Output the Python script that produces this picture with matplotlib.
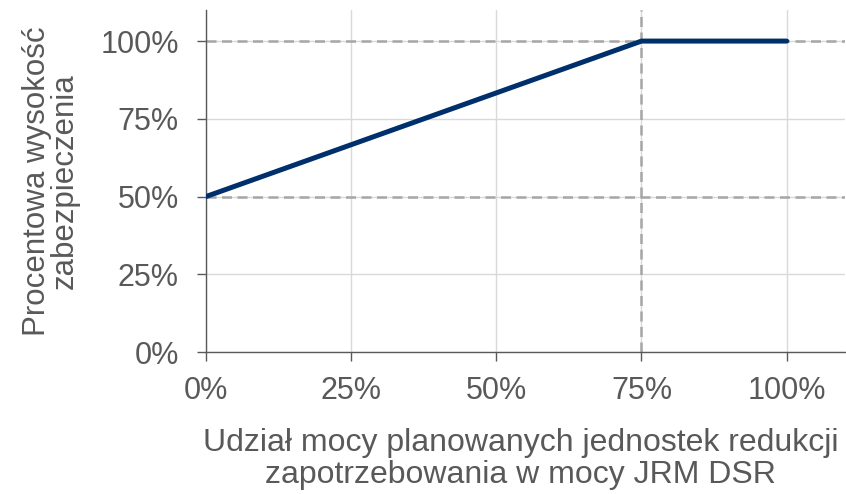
import matplotlib.pyplot as plt
from matplotlib.ticker import FuncFormatter

plt.rcParams['font.family'] = ['Liberation Sans', 'DejaVu Sans']

# data: share of planned DSR units vs. collateral percentage
share = [0, 75, 100]
collateral = [50, 100, 100]
ticks = [0, 25, 50, 75, 100]
ref_y = [50, 100]
ref_x = [75]

txt = '#595959'
fig = plt.figure(figsize=(8.46, 4.94), dpi=100)
ax = fig.add_axes([0.2435, 0.2874, 0.755, 0.6924])

ax.set_xlim(0, 110)
ax.set_ylim(0, 110)
ax.set_xticks(ticks)
ax.set_yticks(ticks)
pct = FuncFormatter(lambda v, p: f'{v:.0f}%')
ax.xaxis.set_major_formatter(pct)
ax.yaxis.set_major_formatter(pct)

ax.grid(True, color='#d9d9d9', lw=1.0)
ax.set_axisbelow(True)

for yv in ref_y:
    ax.axhline(yv, color='#a6a6a6', lw=1.8, ls=(0, (4, 2.2)), zorder=1.5)
for xv in ref_x:
    ax.axvline(xv, color='#a6a6a6', lw=1.8, ls=(0, (4, 2.2)), zorder=1.5)

ax.plot(share, collateral, color='#00306b', lw=3.6, solid_capstyle='round',
        solid_joinstyle='round', zorder=3)

for s in ['top', 'right']:
    ax.spines[s].set_visible(False)
for s in ['left', 'bottom']:
    ax.spines[s].set_color(txt)
    ax.spines[s].set_linewidth(1.0)
ax.tick_params(colors=txt, labelsize=22, length=6.5, width=1.0)
ax.tick_params(axis='x', pad=11)
ax.tick_params(axis='y', pad=13)

ax.set_xlabel('Udział mocy planowanych jednostek redukcji\nzapotrzebowania w mocy JRM DSR',
              fontsize=23, color=txt, linespacing=1.08)
ax.xaxis.set_label_coords(0.492, -0.223)
ax.set_ylabel('Procentowa wysokość\nzabezpieczenia', fontsize=22.5, color=txt,
              labelpad=15, linespacing=0.9)

fig.savefig('out.png', dpi=100)
